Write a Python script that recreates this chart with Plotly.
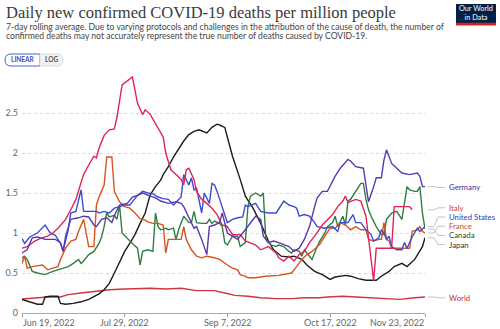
import pandas as pd
import plotly.graph_objects as go

START = pd.Timestamp("2022-06-19")

# (days since 19 Jun 2022, daily deaths per million, 7-day average)
GERMANY = [(0,0.75),(2,0.79),(4,0.94),(6,0.95),(9,0.92),(13,0.92),(15,0.88),(16,0.77),(17,0.96),(19,1.17),(22,1.19),(24,1.21),(26,1.2),(28,1.1),(29,1.08),(31,1.17),(33,1.19),(35,1.13),(36,1.22),(38,1.35),(41,1.37),(43,1.45),(45,1.47),(47,1.5),(50,1.46),(52,1.44),(54,1.4),(57,1.37),(60,1.39),(62,1.37),(63,1.33),(65,1.2),(67,1.06),(68,1.08),(69,1.0),(70,0.92),(72,0.73),(73,1.08),(75,1.1),(77,1.13),(78,1.25),(80,1.0),(82,0.96),(84,0.92),(86,1.0),(88,1.08),(90,1.17),(91,1.21),(93,1.17),(94,0.96),(96,0.88),(98,0.9),(100,0.88),(102,0.85),(104,0.83),(106,0.77),(108,0.81),(110,0.92),(112,1.08),(114,1.33),(115,1.44),(117,1.52),(119,1.52),(122,1.71),(124,1.81),(127,1.92),(128,1.9),(130,1.83),(133,1.81),(134,1.6),(135,1.39),(137,1.58),(138,1.69),(140,1.69),(141,1.91),(142,2.04),(144,1.87),(146,1.81),(148,1.75),(151,1.73),(154,1.75),(155,1.71),(156,1.58),(157,1.58)]

ITALY = [(0,0.81),(2,0.83),(5,0.9),(7,0.93),(10,0.96),(12,1.0),(14,1.06),(17,1.17),(19,1.29),(21,1.42),(23,1.63),(24,1.73),(26,1.85),(28,1.96),(29,1.94),(30,2.06),(32,2.22),(34,2.29),(36,2.3),(37,2.45),(39,2.85),(41,2.9),(43,2.95),(44,2.79),(45,2.62),(47,2.48),(48,2.54),(50,2.48),(52,2.37),(54,2.27),(55,2.2),(56,2.0),(58,1.79),(60,1.73),(62,1.67),(63,1.6),(64,1.79),(65,1.81),(67,1.67),(68,1.52),(70,1.42),(72,1.37),(74,1.31),(76,1.23),(78,1.1),(80,1.08),(82,0.98),(85,0.98),(87,0.9),(91,0.85),(93,0.79),(96,0.83),(99,0.75),(100,0.69),(102,0.65),(104,0.71),(106,0.65),(108,0.73),(110,0.77),(112,0.88),(114,0.96),(117,1.1),(119,1.17),(121,1.23),(123,1.33),(125,1.4),(126,1.46),(127,1.38),(130,1.42),(132,1.4),(134,1.21),(135,0.92),(136,0.71),(137,0.4),(138,0.81),(140,0.81),(142,0.81),(144,0.81),(145,1.33),(148,1.33),(151,1.33),(152,1.29)]

UNITED_STATES = [(0,0.93),(1,0.87),(3,0.95),(6,1.0),(9,1.1),(11,1.0),(13,0.97),(15,0.87),(16,0.77),(18,1.04),(19,1.25),(21,1.27),(23,1.54),(24,1.27),(27,1.27),(29,1.27),(30,1.25),(32,1.27),(34,1.25),(36,1.31),(38,1.33),(40,1.35),(42,1.35),(45,1.47),(47,1.52),(49,1.5),(51,1.49),(53,1.45),(55,1.43),(57,1.42),(59,1.35),(61,1.42),(62,1.45),(63,1.73),(65,1.6),(66,1.69),(67,1.54),(68,1.56),(69,1.42),(70,1.25),(71,1.5),(73,1.37),(74,1.62),(75,1.6),(76,1.52),(78,1.33),(80,1.13),(82,1.17),(84,1.19),(86,1.2),(87,1.35),(88,1.33),(91,1.37),(93,1.27),(96,1.25),(99,1.25),(102,1.4),(104,1.35),(106,1.33),(107,1.31),(108,1.21),(110,1.23),(112,1.21),(114,1.13),(115,1.08),(118,1.06),(121,1.08),(123,1.02),(124,1.13),(127,1.13),(129,1.23),(130,1.13),(132,1.13),(134,1.04),(136,0.98),(137,0.9),(139,0.94),(140,1.04),(141,1.0),(142,0.92),(143,0.96),(144,0.83),(146,0.79),(148,0.79),(149,0.88),(150,0.81),(152,0.95),(154,1.06),(155,1.02),(157,1.08)]

FRANCE = [(0,0.62),(1,0.71),(2,0.56),(4,0.58),(8,0.6),(10,0.54),(12,0.56),(14,0.58),(15,0.67),(17,0.81),(19,0.9),(21,0.92),(22,1.02),(24,1.17),(25,1.0),(26,0.83),(28,0.83),(29,1.35),(30,1.45),(32,1.6),(33,1.95),(35,1.95),(36,1.52),(38,1.39),(40,1.33),(42,1.31),(44,1.25),(46,1.18),(48,1.16),(49,1.14),(51,1.12),(53,1.12),(55,1.1),(56,0.75),(57,0.92),(60,0.92),(62,0.92),(63,1.08),(64,0.92),(66,0.79),(68,0.71),(70,0.69),(72,0.71),(75,0.69),(77,0.67),(80,0.6),(82,0.56),(84,0.54),(85,0.48),(87,0.46),(88,0.44),(91,0.44),(95,0.46),(100,0.47),(102,0.48),(105,0.5),(107,0.58),(109,0.67),(111,0.73),(113,0.77),(116,0.86),(118,0.96),(120,1.06),(122,1.06),(124,1.13),(126,1.1),(128,1.04),(130,1.08),(132,1.04),(134,1.04),(135,0.92),(137,0.9),(139,0.92),(140,0.92),(141,1.13),(142,0.92),(143,0.9),(144,0.81),(148,0.81),(151,0.81),(152,1.02),(154,1.04),(155,1.08),(156,1.02),(157,1.0)]

CANADA = [(0,0.69),(1,0.71),(2,0.67),(4,0.52),(6,0.5),(9,0.48),(12,0.52),(14,0.54),(16,0.56),(18,0.58),(20,0.62),(22,0.67),(23,0.62),(24,0.65),(26,0.73),(28,0.77),(30,0.87),(31,0.95),(32,1.08),(33,1.25),(34,1.2),(36,1.22),(37,1.17),(38,1.35),(39,1.0),(41,0.93),(43,0.87),(45,0.81),(46,0.6),(47,0.77),(49,0.79),(51,0.77),(52,1.25),(53,1.08),(54,1.04),(56,1.06),(57,1.04),(59,1.06),(60,0.92),(61,1.04),(63,1.21),(64,1.17),(65,1.13),(66,1.13),(67,1.27),(68,1.13),(70,1.12),(72,1.12),(73,1.17),(74,1.12),(75,1.15),(77,1.12),(78,1.08),(79,0.88),(80,0.85),(82,0.96),(84,0.96),(85,0.83),(87,0.88),(88,1.33),(89,1.46),(91,1.5),(93,1.46),(94,1.5),(95,0.92),(97,0.85),(99,0.83),(100,0.85),(102,0.83),(104,0.77),(105,0.75),(106,0.79),(108,0.77),(109,0.71),(110,0.79),(112,0.71),(113,0.67),(115,0.83),(116,0.9),(118,1.0),(119,1.08),(121,1.13),(122,1.21),(123,1.08),(125,1.21),(126,1.1),(127,1.4),(128,1.42),(130,1.52),(132,1.62),(133,1.62),(134,1.42),(135,1.29),(136,1.21),(138,1.08),(140,0.98),(141,0.98),(142,1.17),(143,1.21),(144,1.25),(146,1.27),(148,1.17),(150,1.58),(151,1.54),(153,1.52),(154,1.52),(155,1.58),(156,1.25),(157,1.05)]

JAPAN = [(0,0.17),(3,0.14),(6,0.11),(8,0.11),(9,0.2),(11,0.21),(14,0.21),(15,0.12),(17,0.11),(20,0.12),(23,0.14),(26,0.17),(28,0.2),(30,0.24),(32,0.29),(34,0.37),(36,0.5),(38,0.63),(40,0.77),(42,0.87),(44,0.98),(46,1.12),(48,1.25),(49,1.37),(50,1.48),(52,1.58),(54,1.66),(55,1.73),(57,1.83),(59,1.95),(61,2.05),(63,2.15),(65,2.23),(67,2.27),(69,2.29),(72,2.25),(74,2.32),(76,2.36),(77,2.35),(79,2.32),(80,2.2),(82,1.96),(85,1.67),(87,1.46),(90,1.31),(93,1.12),(96,0.9),(98,0.79),(101,0.71),(104,0.7),(106,0.71),(109,0.67),(111,0.6),(114,0.52),(117,0.48),(120,0.42),(122,0.45),(126,0.47),(128,0.46),(131,0.43),(134,0.41),(138,0.41),(140,0.46),(143,0.52),(145,0.58),(148,0.62),(150,0.58),(153,0.67),(156,0.83),(157,0.94)]

WORLD = [(0,0.175),(5,0.19),(10,0.2),(15,0.2),(18,0.23),(23,0.25),(28,0.27),(34,0.29),(40,0.3),(50,0.31),(56,0.3),(62,0.31),(68,0.28),(75,0.28),(79,0.25),(83,0.22),(88,0.21),(93,0.19),(99,0.18),(105,0.18),(110,0.19),(116,0.19),(119,0.2),(125,0.21),(130,0.2),(135,0.19),(140,0.18),(143,0.17),(147,0.17),(153,0.19),(157,0.2)]

SERIES = [
    # name, points, line colour, label colour, label height (axis units)
    ("World", WORLD, "#d0343f", "#c3303a", 0.19),
    ("Japan", JAPAN, "#1c1c1c", "#333333", 0.855),
    ("Canada", CANADA, "#2f7d40", "#1f4d27", 0.97),
    ("France", FRANCE, "#d9531f", "#d2462a", 1.085),
    ("United States", UNITED_STATES, "#3a4cd2", "#2f3cba", 1.2),
    ("Italy", ITALY, "#e0245a", "#d2402f", 1.315),
    ("Germany", GERMANY, "#5b37b3", "#3d2e93", 1.57),
]

TICK_DATES = ["2022-06-19", "2022-07-29", "2022-09-07", "2022-10-17", "2022-11-23"]
TICK_TEXT = ["Jun 19, 2022", "Jul 29, 2022", "Sep 7, 2022", "Oct 17, 2022", "Nov 23, 2022"]

W, H = 500, 329
ML, MR, MT, MB = 22, 75, 73, 16
PW, PH = W - ML - MR, H - MT - MB
FONT = "Lato, 'Open Sans', sans-serif"


def px_x(px):
    return (px - ML) / PW


def px_y(py):
    return (H - MB - py) / PH


fig = go.Figure()
for name, pts, color, _, _ in SERIES:
    days = [d for d, _ in pts]
    vals = [v for _, v in pts]
    fig.add_trace(go.Scatter(
        x=[START + pd.Timedelta(days=d) for d in days], y=vals,
        mode="lines", name=name, line=dict(color=color, width=1.4),
        hoverinfo="x+y+name",
    ))

annotations = []
shapes = []

# Right-hand series labels with elbow connectors
for name, pts, _, lab_color, lab_v in SERIES:
    end_v = pts[-1][1]
    x0, x1, x2, x3 = px_x(428), px_x(434), px_x(438), px_x(445)
    shapes.append(dict(
        type="path", xref="paper", yref="y",
        path=f"M {x0} {end_v} L {x1} {end_v} L {x2} {lab_v} L {x3} {lab_v}",
        line=dict(color="#b5b5b5", width=0.8),
    ))
    annotations.append(dict(
        text=name, xref="paper", yref="y", x=px_x(448), y=lab_v,
        xanchor="left", yanchor="middle", showarrow=False, borderpad=0,
        font=dict(family=FONT, size=7.8, color=lab_color),
    ))

# Date labels under the axis
for i, (d, t) in enumerate(zip(TICK_DATES, TICK_TEXT)):
    anchor = "left" if i == 0 else ("right" if i == len(TICK_DATES) - 1 else "center")
    annotations.append(dict(
        text=t, xref="x", yref="paper", x=d, y=px_y(322.5),
        xanchor=anchor, yanchor="middle", showarrow=False, borderpad=0,
        font=dict(family=FONT, size=9, color="#666666"),
    ))

# Title and subtitle
annotations.append(dict(
    text="Daily new confirmed COVID-19 deaths per million people",
    xref="paper", yref="paper", x=px_x(4), y=px_y(12.5),
    xanchor="left", yanchor="middle", showarrow=False,
    font=dict(family="'Liberation Serif', 'DejaVu Serif', serif", size=16.5, color="#3a3a3a"),
))
for line, cy in [
    ("7-day rolling average. Due to varying protocols and challenges in the attribution of the cause of death, the number of", 27),
    ("confirmed deaths may not accurately represent the true number of deaths caused by COVID-19.", 35.5),
]:
    annotations.append(dict(
        text=line, xref="paper", yref="paper", x=px_x(4.5), y=px_y(cy),
        xanchor="left", yanchor="middle", showarrow=False, borderpad=0,
        font=dict(family=FONT, size=8.6, color="#444444"),
    ))

# LINEAR / LOG toggle
r = 6
shapes.append(dict(
    type="path", xref="paper", yref="paper",
    path=(f"M {px_x(40)} {px_y(54)} L {px_x(40)} {px_y(66)} L {px_x(5 + r)} {px_y(66)} "
          f"Q {px_x(5)} {px_y(66)} {px_x(5)} {px_y(60)} Q {px_x(5)} {px_y(54)} {px_x(5 + r)} {px_y(54)} Z"),
    fillcolor="#ffffff", line=dict(color="#4b5fd0", width=1),
))
shapes.append(dict(
    type="path", xref="paper", yref="paper",
    path=(f"M {px_x(40)} {px_y(54)} L {px_x(63 - r)} {px_y(54)} Q {px_x(63)} {px_y(54)} {px_x(63)} {px_y(60)} "
          f"Q {px_x(63)} {px_y(66)} {px_x(63 - r)} {px_y(66)} L {px_x(40)} {px_y(66)} Z"),
    fillcolor="#f2f2f2", line=dict(color="#dddddd", width=1),
))
annotations.append(dict(
    text="<b>LINEAR</b>", xref="paper", yref="paper", x=px_x(22.5), y=px_y(60),
    xanchor="center", yanchor="middle", showarrow=False, borderpad=0,
    font=dict(family=FONT, size=6.5, color="#3b4fc4"),
))
annotations.append(dict(
    text="<b>LOG</b>", xref="paper", yref="paper", x=px_x(51.5), y=px_y(60),
    xanchor="center", yanchor="middle", showarrow=False, borderpad=0,
    font=dict(family=FONT, size=6.5, color="#555555"),
))

# Logo block
shapes.append(dict(type="rect", xref="paper", yref="paper",
                   x0=px_x(456), x1=px_x(496), y0=px_y(25), y1=px_y(4),
                   fillcolor="#002147", line=dict(width=0)))
shapes.append(dict(type="rect", xref="paper", yref="paper",
                   x0=px_x(456), x1=px_x(496), y0=px_y(25.5), y1=px_y(22.8),
                   fillcolor="#ce261e", line=dict(width=0)))
annotations.append(dict(
    text="Our World<br>in Data", xref="paper", yref="paper", x=px_x(476), y=px_y(13.4),
    xanchor="center", yanchor="middle", showarrow=False, borderpad=0,
    font=dict(family=FONT, size=7.3, color="#ffffff"),
))

fig.update_layout(
    template="none",
    width=W, height=H,
    margin=dict(l=ML, r=MR, t=MT, b=MB, pad=0, autoexpand=False),
    paper_bgcolor="#ffffff", plot_bgcolor="#ffffff",
    showlegend=False,
    font=dict(family=FONT, size=9, color="#666666"),
    annotations=annotations,
    shapes=shapes,
    xaxis=dict(
        type="date", range=[TICK_DATES[0], TICK_DATES[-1]],
        tickvals=TICK_DATES, showticklabels=False, automargin=False,
        ticks="outside", ticklen=3, tickcolor="#999999",
        showgrid=False, showline=True, linecolor="#a8a8a8", linewidth=1,
        zeroline=False, fixedrange=True,
    ),
    yaxis=dict(
        range=[0, 3], tickvals=[0, 0.5, 1, 1.5, 2, 2.5],
        ticktext=["0", "0.5", "1", "1.5", "2", "2.5"], automargin=False,
        showgrid=True, gridcolor="#d8d8d8", griddash="dot", gridwidth=1,
        zeroline=False, showline=False, ticks="",
        ticklabelstandoff=3,
        tickfont=dict(family=FONT, size=9, color="#666666"),
        fixedrange=True,
    ),
)

fig.write_html("out.html")
